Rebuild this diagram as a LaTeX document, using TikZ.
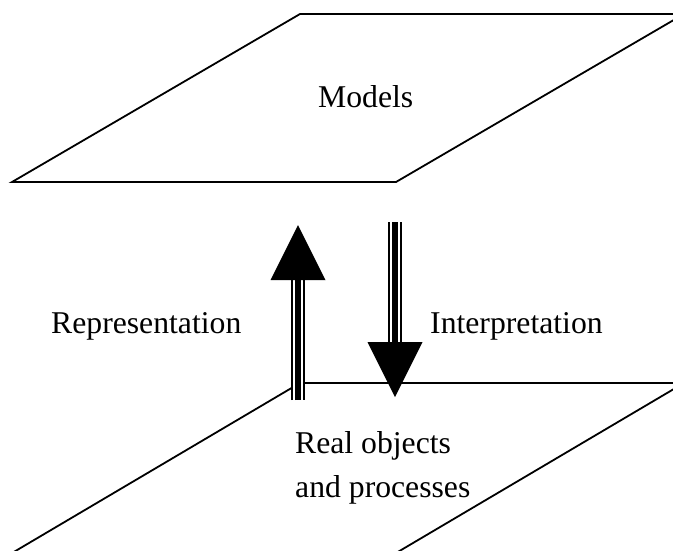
\documentclass[tikz,border=0pt]{standalone}
\usepackage{fontspec}
\setmainfont{Liberation Serif}
\begin{document}
\begin{tikzpicture}[x=1pt,y=-1pt,
  plane/.style={draw=black,line width=1.8pt,line join=miter},
  caption/.style={font=\fontsize{31.7}{44}\selectfont,inner sep=0pt,align=left},
  shaft/.style={draw=black,line width=14pt,
    postaction={draw=white,line width=10pt},
    postaction={draw=black,line width=6pt}},
  head/.style={fill=black}
]
  \useasboundingbox (0,0) rectangle (673,550);
  \clip (0,0) rectangle (673,550);

  % the two planes
  \draw[plane] (12,182) -- (300,14) -- (684,14) -- (396,182) -- cycle;
  \draw[plane] (7,556) -- (300,383) -- (684,383) -- (391,556) -- cycle;

  \coordinate (upfoot) at (298,400);
  \coordinate (upbase) at (298,280);
  \coordinate (downtop) at (395,222);
  \coordinate (downbase) at (395,342);

  % representation arrow
  \draw[shaft] (upfoot) -- ([yshift=1pt]upbase);
  \fill[head] (upbase) ++(-27.5,0) -- ++(27.5,-55) -- ++(27.5,55) -- cycle;

  % interpretation arrow
  \draw[shaft] (downtop) -- ([yshift=-1pt]downbase);
  \fill[head] (downbase) ++(-27.5,0) -- ++(27.5,55) -- ++(27.5,-55) -- cycle;

  \node[caption,anchor=base west] (models) at (318,107) {Models};
  \node[caption,anchor=base west] (repr) at (51,333) {Representation};
  \node[caption,anchor=base west] (interp) at (430,333) {Interpretation};
  \node[caption,anchor=north west] (real) at (295,431) {Real objects\\and processes};
\end{tikzpicture}
\end{document}
